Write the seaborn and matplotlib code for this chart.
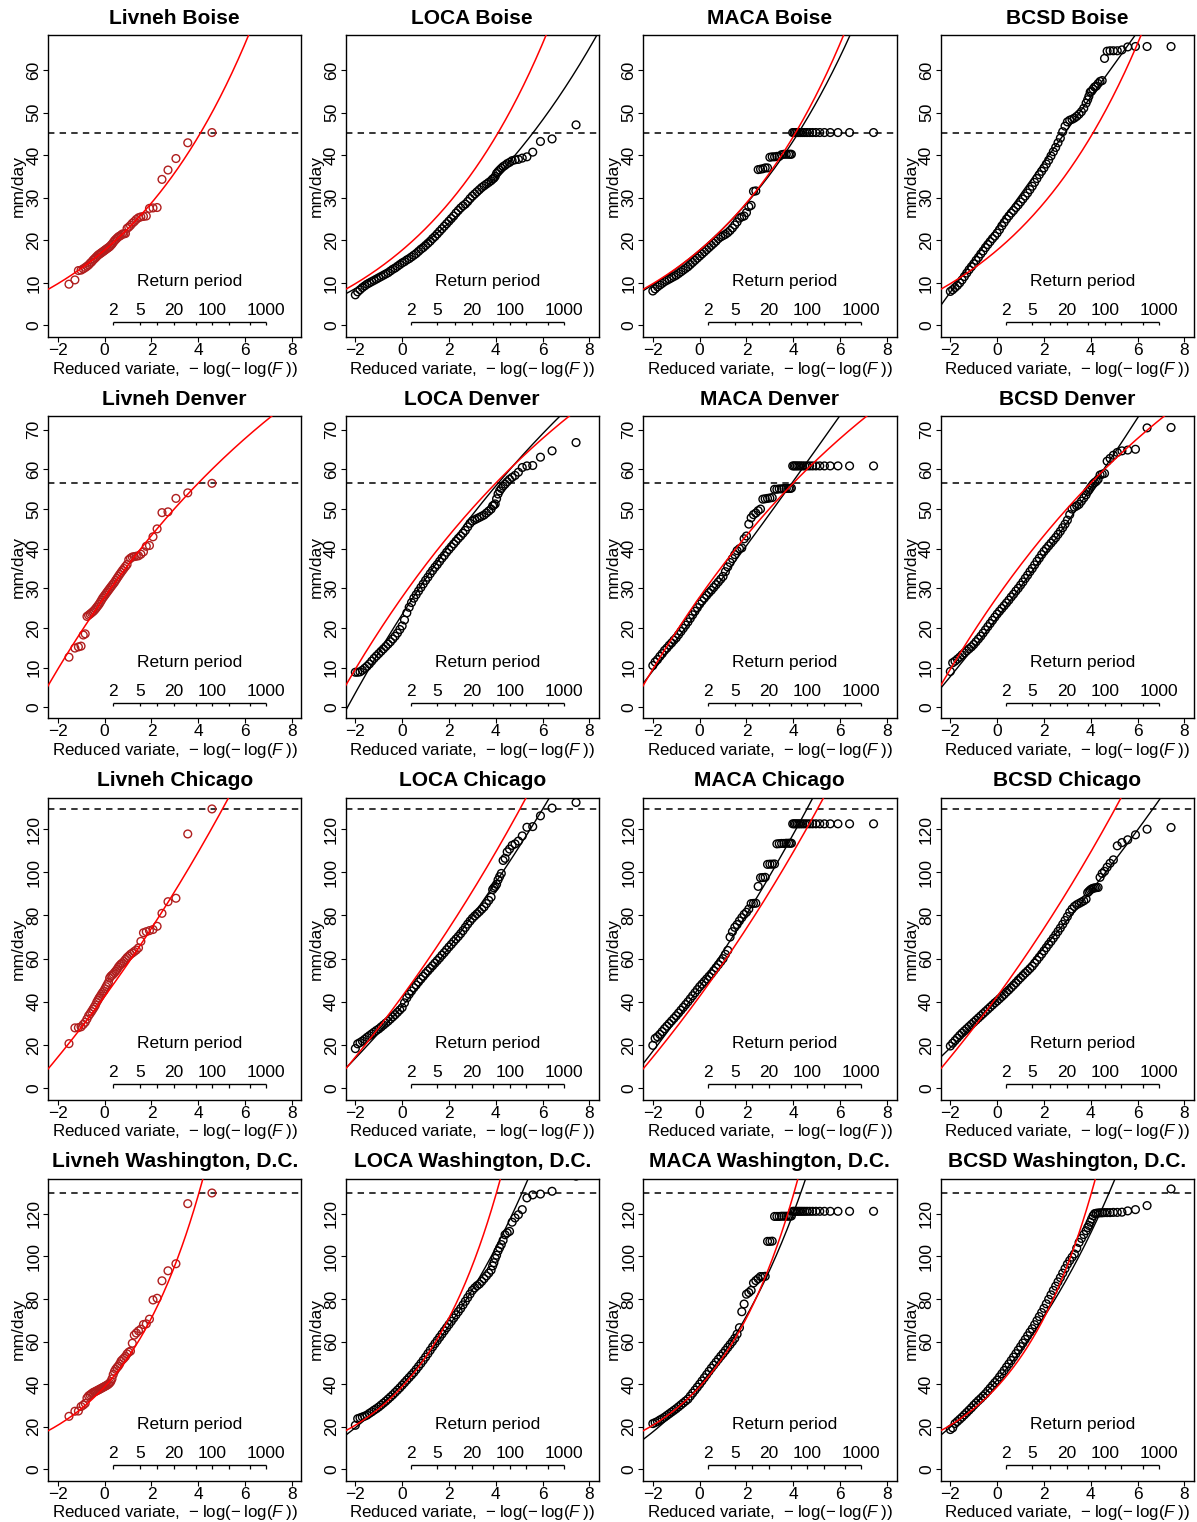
import numpy as np
import matplotlib
matplotlib.use("Agg")
import matplotlib.pyplot as plt
import matplotlib.transforms as mtransforms
import seaborn as sns

sns.set_theme(style="ticks", rc={
    "axes.edgecolor": "black", "axes.linewidth": 1.0,
    "xtick.color": "black", "ytick.color": "black",
    "text.color": "black", "axes.labelcolor": "black",
})
plt.rcParams["font.family"] = ["Liberation Sans", "DejaVu Sans"]
plt.rcParams["mathtext.fontset"] = "custom"
plt.rcParams["mathtext.rm"] = "Liberation Sans"
plt.rcParams["mathtext.it"] = "Liberation Sans:italic"
plt.rcParams["axes.unicode_minus"] = True

# ---------------------------------------------------------------- data
products = ["Livneh", "LOCA", "MACA", "BCSD"]
cities = ["Boise", "Denver", "Chicago", "Washington, D.C."]

# Livneh observed annual maxima (mm/day), 55 years, ascending
livneh_boise = [9.7, 10.7, 12.9, 13.0, 13.3, 13.6, 13.9, 14.2, 14.6, 14.9, 15.3, 15.6, 15.9, 16.2,
                16.5, 16.7, 16.9, 17.1, 17.3, 17.5, 17.7, 17.9, 18.1, 18.3, 18.5, 18.8, 19.1, 19.5,
                19.9, 20.2, 20.5, 20.8, 21.0, 21.2, 21.5, 21.5, 21.6, 22.8, 23.1, 23.5, 24.0, 24.4,
                24.9, 25.3, 25.5, 25.6, 25.7, 27.5, 27.6, 27.7, 34.3, 36.5, 39.2, 42.9, 45.3]
livneh_denver = [12.6, 14.9, 15.2, 15.4, 18.2, 18.5, 22.9, 23.2, 23.5, 23.8, 24.1, 24.4, 24.8, 25.2,
                 25.6, 26.0, 26.5, 27.0, 27.5, 27.9, 28.3, 28.7, 29.1, 29.5, 29.9, 30.3, 30.7, 31.1,
                 31.5, 32.0, 32.5, 33.0, 33.5, 34.0, 34.5, 35.0, 35.5, 36.0, 37.2, 37.6, 37.9, 38.0,
                 38.1, 38.2, 38.6, 39.2, 40.6, 40.8, 43.0, 45.0, 49.1, 49.3, 52.7, 54.1, 56.5]
livneh_chicago = [20.6, 27.9, 28.0, 28.4, 29.5, 30.5, 32.0, 33.5, 34.5, 35.5, 36.5, 37.5, 38.5, 39.8,
                  40.8, 41.8, 42.6, 43.5, 44.3, 45.0, 46.0, 47.0, 48.0, 49.0, 51.0, 51.8, 52.3, 52.8,
                  53.5, 54.2, 55.0, 56.0, 56.8, 57.5, 58.0, 58.7, 59.6, 60.5, 61.2, 62.0, 62.6, 63.3,
                  64.0, 65.0, 68.0, 72.0, 72.5, 73.0, 73.5, 75.0, 81.0, 86.4, 88.0, 117.8, 129.4]
livneh_dc = [24.9, 27.3, 27.4, 29.5, 30.2, 31.0, 33.5, 34.5, 35.0, 35.5, 36.0, 36.3, 36.6, 36.9,
             37.2, 37.5, 37.8, 38.1, 38.4, 38.7, 39.0, 39.3, 39.6, 40.0, 40.5, 41.2, 42.5, 44.5,
             46.0, 47.0, 47.8, 48.5, 49.5, 50.8, 51.5, 52.2, 53.0, 54.2, 55.0, 55.5, 59.2, 63.0,
             64.0, 65.0, 65.8, 68.0, 68.3, 70.5, 79.5, 80.3, 88.5, 93.2, 96.5, 124.7, 129.7]

# Downscaled ensembles (944 model-years each).
# Body of each distribution, sampled along the reduced variate -2.0, -1.9, ..., 3.8
bulk_rv = np.round(np.arange(-20, 39) / 10.0, 1)
n_ensemble = 944

loca_boise_bulk = [7.2, 7.9, 8.4, 8.9, 9.3, 9.7, 10.0, 10.3, 10.6, 10.9, 11.2, 11.5, 11.8, 12.1, 12.4,
                   12.8, 13.2, 13.5, 13.9, 14.3, 14.7, 15.0, 15.4, 15.7, 16.1, 16.5, 16.9, 17.4, 17.9,
                   18.3, 18.8, 19.3, 19.8, 20.4, 20.9, 21.5, 22.1, 22.7, 23.3, 23.9, 24.5, 25.1, 25.7,
                   26.4, 27.0, 27.6, 28.1, 28.5, 29.1, 29.8, 30.4, 30.9, 31.4, 31.9, 32.4, 32.8, 33.2,
                   33.6, 34.0]
maca_boise_bulk = [8.1, 8.6, 9.1, 9.5, 9.9, 10.3, 10.6, 10.9, 11.2, 11.5, 11.8, 12.2, 12.6, 13.0, 13.4,
                   13.8, 14.3, 14.8, 15.3, 15.8, 16.3, 16.8, 17.3, 17.8, 18.3, 18.8, 19.3, 19.8, 20.4,
                   20.8, 21.1, 21.4, 21.8, 22.3, 22.9, 23.6, 24.3, 25.2, 25.5, 25.7, 26.5, 27.9, 28.2,
                   31.5, 31.6, 36.6, 36.7, 36.8, 37.0, 37.0, 39.5, 39.6, 39.6, 39.7, 39.7, 40.1, 40.2,
                   40.2, 40.2]
bcsd_boise_bulk = [8.0, 8.4, 8.9, 9.4, 10.0, 10.7, 11.5, 12.3, 13.1, 13.8, 14.5, 15.3, 16.0, 16.8, 17.5,
                   18.3, 19.0, 19.7, 20.4, 21.0, 21.7, 22.5, 23.4, 24.2, 25.0, 25.7, 26.4, 27.0, 27.7,
                   28.3, 29.0, 29.7, 30.4, 31.1, 31.9, 32.7, 33.6, 34.5, 35.4, 36.2, 37.0, 37.9, 38.8,
                   39.8, 40.8, 41.8, 42.9, 44.0, 45.5, 46.8, 47.8, 48.2, 48.4, 48.7, 49.1, 49.6, 50.2,
                   51.0, 52.2]
loca_denver_bulk = [8.8, 8.8, 8.9, 9.3, 9.8, 10.3, 10.9, 11.6, 12.3, 12.9, 13.5, 14.1, 14.7, 15.3, 15.9,
                    16.5, 17.2, 17.9, 18.7, 19.6, 20.5, 22.0, 23.8, 25.2, 26.4, 27.5, 28.4, 29.3, 30.2,
                    31.1, 32.0, 32.8, 33.7, 34.5, 35.3, 36.0, 36.8, 37.6, 38.3, 39.1, 39.8, 40.5, 41.2,
                    41.9, 42.6, 43.2, 43.9, 44.6, 45.5, 46.4, 47.0, 47.3, 47.6, 47.9, 48.2, 48.5, 49.0,
                    49.5, 50.0]
maca_denver_bulk = [10.5, 11.4, 12.0, 12.8, 13.5, 14.3, 14.9, 15.6, 16.2, 16.9, 17.5, 18.3, 19.1, 19.9,
                    20.7, 21.5, 22.4, 23.3, 24.2, 25.1, 26.0, 26.8, 27.5, 28.2, 28.9, 29.5, 30.2, 30.9,
                    31.6, 32.3, 33.0, 34.2, 35.4, 36.5, 37.5, 38.5, 39.5, 40.0, 40.2, 42.5, 43.2, 46.2,
                    47.8, 48.6, 49.0, 49.6, 50.0, 52.5, 52.6, 52.7, 52.8, 52.9, 55.0, 55.0, 55.1, 55.1,
                    55.2, 55.2, 55.2]
bcsd_denver_bulk = [9.0, 11.2, 11.6, 12.1, 12.6, 13.2, 13.7, 14.2, 14.7, 15.2, 15.8, 16.5, 17.2, 17.9,
                    18.7, 19.5, 20.3, 21.1, 21.9, 22.7, 23.5, 24.2, 24.9, 25.6, 26.3, 27.0, 27.8, 28.5,
                    29.3, 30.0, 30.8, 31.6, 32.5, 33.3, 34.2, 35.0, 35.9, 36.8, 37.6, 38.5, 39.3, 40.0,
                    40.7, 41.4, 42.1, 42.8, 43.6, 44.4, 45.3, 46.2, 47.2, 48.6, 50.0, 50.5, 50.8, 51.2,
                    52.0, 52.8, 53.6]
loca_chicago_bulk = [18.3, 20.5, 21.1, 21.8, 22.6, 23.5, 24.3, 25.1, 25.9, 26.7, 27.4, 28.3, 29.2, 30.1,
                     31.0, 32.0, 33.0, 34.0, 35.1, 36.2, 37.3, 39.5, 41.8, 43.5, 45.0, 46.5, 47.8, 49.2,
                     50.5, 51.8, 53.1, 54.3, 55.5, 56.7, 57.9, 59.1, 60.3, 61.6, 62.8, 64.1, 65.4, 66.6,
                     67.9, 69.1, 70.3, 71.6, 73.0, 74.5, 76.0, 77.4, 78.7, 79.8, 80.8, 81.8, 82.9, 84.0,
                     85.5, 87.0, 88.5]
maca_chicago_bulk = [19.8, 23.0, 23.8, 24.9, 26.2, 27.5, 28.7, 29.9, 31.1, 32.3, 33.5, 34.8, 36.1, 37.4,
                     38.7, 40.0, 41.4, 42.8, 44.2, 45.6, 47.0, 48.2, 49.4, 50.6, 51.8, 53.0, 54.4, 55.8,
                     57.2, 58.6, 60.0, 62.0, 63.8, 70.0, 72.5, 74.5, 75.8, 77.5, 79.0, 80.5, 81.5, 83.0,
                     85.5, 85.6, 85.7, 93.5, 97.5, 97.6, 97.7, 103.7, 103.8, 103.8, 103.9, 113.2, 113.3,
                     113.4, 113.4, 113.5, 113.5]
bcsd_chicago_bulk = [19.5, 20.8, 22.0, 23.2, 24.4, 25.5, 26.5, 27.5, 28.5, 29.5, 30.5, 31.5, 32.5, 33.5,
                     34.5, 35.5, 36.5, 37.5, 38.5, 39.5, 40.4, 41.4, 42.4, 43.4, 44.5, 45.5, 46.6, 47.7,
                     48.8, 50.0, 51.1, 52.2, 53.3, 54.3, 55.4, 56.5, 57.9, 59.3, 60.7, 62.1, 63.6, 65.1,
                     66.6, 68.0, 69.5, 71.0, 72.6, 74.2, 75.9, 77.7, 79.5, 81.5, 83.0, 84.2, 85.0, 85.6,
                     86.2, 86.8, 87.6]
loca_dc_bulk = [20.7, 23.8, 24.2, 24.6, 25.0, 25.5, 26.3, 27.0, 27.8, 28.5, 29.3, 30.2, 31.1, 32.0,
                33.0, 34.0, 35.0, 36.1, 37.2, 38.3, 39.5, 40.7, 41.9, 43.1, 44.3, 45.5, 46.9, 48.3,
                49.7, 51.2, 52.7, 54.3, 55.9, 57.5, 59.0, 60.5, 62.0, 63.5, 65.0, 66.5, 68.0, 69.5,
                71.0, 72.5, 74.0, 75.5, 77.2, 78.9, 80.6, 82.3, 84.0, 85.2, 86.2, 87.0, 88.2, 89.5,
                90.8, 92.1, 93.5]
maca_dc_bulk = [21.5, 22.0, 22.5, 23.2, 23.8, 24.5, 25.3, 26.1, 26.9, 27.7, 28.5, 29.4, 30.3, 31.2,
                32.1, 33.0, 34.4, 35.8, 37.2, 38.6, 40.0, 41.5, 43.0, 44.5, 46.0, 47.5, 48.9, 50.3,
                51.7, 53.1, 54.4, 55.8, 57.2, 58.6, 60.0, 61.5, 63.5, 66.5, 74.0, 77.6, 82.2, 83.0,
                84.0, 87.5, 88.6, 89.5, 90.5, 90.5, 90.6, 107.0, 107.0, 107.1, 118.7, 118.7, 118.7,
                118.8, 118.8, 118.8, 118.8]
bcsd_dc_bulk = [18.7, 19.5, 21.5, 22.5, 23.5, 24.5, 25.6, 26.7, 27.8, 28.9, 30.1, 31.2, 32.3, 33.3,
                34.4, 35.5, 36.8, 38.1, 39.4, 40.7, 41.9, 43.4, 44.9, 46.4, 48.0, 49.5, 51.1, 52.7,
                54.3, 56.0, 57.6, 59.3, 61.0, 62.7, 64.4, 66.0, 67.9, 69.8, 71.7, 73.6, 75.6, 77.7,
                79.8, 81.9, 84.0, 86.0, 88.0, 90.0, 92.1, 94.2, 96.3, 98.0, 99.6, 101.1, 103.8, 106.5,
                108.4, 110.2, 112.0]

# Twenty largest ensemble values, largest first
loca_boise_top = [47.1, 43.8, 43.2, 40.7, 39.6, 39.3, 39.0, 38.9, 38.7, 38.3, 38.0, 37.6, 37.3, 36.9,
                  36.5, 36.1, 35.7, 35.0, 34.6, 34.4]
maca_boise_top = [45.3, 45.3, 45.3, 45.3, 45.3, 45.3, 45.3, 45.3, 45.3, 45.3, 45.3, 45.3, 45.3, 45.3,
                  45.3, 45.3, 45.3, 45.3, 40.2, 40.2]
bcsd_boise_top = [65.5, 65.5, 65.5, 65.4, 64.7, 64.5, 64.5, 64.5, 64.4, 62.7, 57.5, 57.3, 56.8, 56.2,
                  56.0, 55.5, 55.0, 54.8, 53.8, 53.0]
loca_denver_top = [66.8, 64.7, 63.1, 61.0, 60.9, 60.5, 59.3, 58.5, 58.0, 57.5, 56.9, 56.3, 55.8, 55.2,
                   54.6, 53.8, 52.6, 51.3, 51.0, 50.8]
maca_denver_top = [60.9, 60.9, 60.9, 60.9, 60.9, 60.9, 60.9, 60.9, 60.9, 60.9, 60.9, 60.9, 60.9, 60.9,
                   60.9, 60.9, 60.9, 60.9, 55.3, 55.2]
bcsd_denver_top = [70.6, 70.5, 65.1, 64.9, 64.7, 64.3, 63.6, 62.8, 62.1, 59.0, 58.8, 58.6, 57.5, 57.0,
                   56.7, 56.3, 55.8, 55.3, 54.8, 54.4]
loca_chicago_top = [132.4, 129.8, 126.2, 121.2, 120.9, 116.9, 114.5, 113.2, 112.5, 110.8, 109.5, 106.5,
                    105.5, 99.5, 98.0, 96.5, 94.5, 93.5, 92.8, 92.0]
maca_chicago_top = [122.5, 122.5, 122.5, 122.5, 122.5, 122.5, 122.5, 122.5, 122.5, 122.5, 122.5, 122.5,
                    122.5, 122.5, 122.5, 122.5, 122.5, 122.5, 113.5, 113.5]
bcsd_chicago_top = [120.8, 120.0, 117.4, 115.1, 113.8, 112.3, 105.8, 104.2, 102.4, 100.5, 99.5, 97.7,
                    93.0, 92.9, 92.8, 92.6, 92.3, 91.8, 91.2, 90.6]
loca_dc_top = [137.6, 130.5, 129.2, 128.8, 127.4, 121.9, 119.5, 118.0, 116.0, 111.7, 111.0, 110.1,
               107.5, 105.5, 104.0, 102.5, 100.5, 99.0, 97.0, 95.5]
maca_dc_top = [121.1, 121.1, 121.1, 121.1, 121.1, 121.1, 121.1, 121.1, 121.1, 121.1, 121.1, 121.1,
               121.1, 121.1, 121.1, 121.1, 121.1, 121.1, 118.9, 118.9]
bcsd_dc_top = [131.6, 123.8, 121.9, 121.3, 120.7, 120.6, 120.6, 120.5, 120.5, 120.5, 120.4, 120.4,
               120.3, 120.2, 120.0, 119.0, 117.5, 116.0, 114.5, 113.5]

# GEV fits (location, scale, shape) in the reduced-variate form
gev_livneh = {"Boise": (17.7, 4.65, 0.17), "Denver": (27.8, 8.4, -0.08),
              "Chicago": (42.5, 14.9, 0.057), "Washington, D.C.": (38.8, 11.9, 0.29)}
gev_loca = {"Boise": (15.5, 3.815, 0.113), "Denver": (23.4, 9.26, -0.068),
            "Chicago": (38.0, 12.8, 0.056), "Washington, D.C.": (40.0, 11.78, 0.146)}
gev_maca = {"Boise": (17.7, 4.7, 0.148), "Denver": (24.8, 7.9, 0.01),
            "Chicago": (47.0, 15.8, 0.055), "Washington, D.C.": (39.5, 13.25, 0.197)}
gev_bcsd = {"Boise": (23.1, 7.64, 0.0), "Denver": (22.6, 7.67, 0.03),
            "Chicago": (41.0, 11.6, 0.04), "Washington, D.C.": (42.0, 12.75, 0.144)}

return_periods = [2, 5, 10, 20, 50, 100, 200, 500, 1000]
return_labels = [2, 5, 20, 100, 1000]

y_limits = {"Boise": (-2.7, 68.2), "Denver": (-2.75, 73.5),
            "Chicago": (-5.3, 134.7), "Washington, D.C.": (-5.2, 136.5)}
y_ticks = {"Boise": range(0, 61, 10), "Denver": range(0, 71, 10),
           "Chicago": range(0, 121, 20), "Washington, D.C.": range(0, 121, 20)}

livneh_values = {"Boise": livneh_boise, "Denver": livneh_denver,
                 "Chicago": livneh_chicago, "Washington, D.C.": livneh_dc}
ensemble_bulk = {
    ("LOCA", "Boise"): loca_boise_bulk, ("MACA", "Boise"): maca_boise_bulk, ("BCSD", "Boise"): bcsd_boise_bulk,
    ("LOCA", "Denver"): loca_denver_bulk, ("MACA", "Denver"): maca_denver_bulk, ("BCSD", "Denver"): bcsd_denver_bulk,
    ("LOCA", "Chicago"): loca_chicago_bulk, ("MACA", "Chicago"): maca_chicago_bulk, ("BCSD", "Chicago"): bcsd_chicago_bulk,
    ("LOCA", "Washington, D.C."): loca_dc_bulk, ("MACA", "Washington, D.C."): maca_dc_bulk,
    ("BCSD", "Washington, D.C."): bcsd_dc_bulk,
}
ensemble_top = {
    ("LOCA", "Boise"): loca_boise_top, ("MACA", "Boise"): maca_boise_top, ("BCSD", "Boise"): bcsd_boise_top,
    ("LOCA", "Denver"): loca_denver_top, ("MACA", "Denver"): maca_denver_top, ("BCSD", "Denver"): bcsd_denver_top,
    ("LOCA", "Chicago"): loca_chicago_top, ("MACA", "Chicago"): maca_chicago_top, ("BCSD", "Chicago"): bcsd_chicago_top,
    ("LOCA", "Washington, D.C."): loca_dc_top, ("MACA", "Washington, D.C."): maca_dc_top,
    ("BCSD", "Washington, D.C."): bcsd_dc_top,
}
gev_fits = {"LOCA": gev_loca, "MACA": gev_maca, "BCSD": gev_bcsd}


# ---------------------------------------------------------------- helpers
def gringorten_rv(rank, n):
    """Gumbel reduced variate of Gringorten plotting positions."""
    p = (np.asarray(rank, float) - 0.44) / (n + 0.12)
    return -np.log(-np.log(p))


def gev_quantile(rv, loc, scale, shape):
    rv = np.asarray(rv, float)
    if abs(shape) < 1e-9:
        return loc + scale * rv
    return loc + scale * np.expm1(shape * rv) / shape


LIVNEH_PT = "#B01E1E"
FS = 12.5
THIN = "\u2009"

fig = plt.figure(figsize=(11.97, 15.22), dpi=100)
W, H = 1197.0, 1522.0
lefts = [48, 345.5, 643, 940.5]
tops = [35, 416, 797.5, 1178.5]
aw, ah = 253.5, 302

rv_curve = np.linspace(-2.7, 8.7, 400)
rp_rv = -np.log(-np.log(1 - 1 / np.array(return_periods, float)))
x_label = ("Reduced variate,  \u2212" + THIN + "log(\u2212" + THIN + "log($\\mathit{F}$"
           + THIN + "))")

for r, city in enumerate(cities):
    for c, prod in enumerate(products):
        ax = fig.add_axes([lefts[c] / W, (H - tops[r] - ah) / H, aw / W, ah / H])

        if prod == "Livneh":
            vals = np.sort(np.array(livneh_values[city], float))
            rv = gringorten_rv(np.arange(1, len(vals) + 1), len(vals))
            pt_color = LIVNEH_PT
        else:
            top = np.array(ensemble_top[(prod, city)], float)
            ranks = n_ensemble - np.arange(len(top))
            rv = np.concatenate([bulk_rv, gringorten_rv(ranks, n_ensemble)])
            vals = np.concatenate([np.array(ensemble_bulk[(prod, city)], float), top])
            pt_color = "black"

        # observed record maximum
        ax.axhline(max(livneh_values[city]), color="black", lw=1.1,
                   linestyle=(0, (4.2, 3.4)), zorder=2)

        sns.scatterplot(x=rv, y=vals, ax=ax, marker="o", s=31, color=pt_color,
                        facecolor="none", edgecolor=pt_color, linewidth=1.0,
                        legend=False, zorder=3)

        if prod != "Livneh":
            sns.lineplot(x=rv_curve, y=gev_quantile(rv_curve, *gev_fits[prod][city]), ax=ax,
                         color="black", lw=1.0, estimator=None, errorbar=None, zorder=4)
        sns.lineplot(x=rv_curve, y=gev_quantile(rv_curve, *gev_livneh[city]), ax=ax,
                     color="#FF0000", lw=1.1, estimator=None, errorbar=None, zorder=5)

        ax.set_xlim(-2.42, 8.41)
        ax.set_ylim(*y_limits[city])
        ax.set_xticks([-2, 0, 2, 4, 6, 8])
        ax.set_yticks(list(y_ticks[city]))
        ax.tick_params(axis="both", direction="out", length=3.6, width=0.8,
                       labelsize=FS, pad=1.0, colors="black")
        for lab in ax.get_yticklabels():
            lab.set_rotation(90)
            lab.set_verticalalignment("center")
        for sp in ax.spines.values():
            sp.set_visible(True)
            sp.set_color("black")
            sp.set_linewidth(1.0)

        ax.set_title(f"{prod} {city}", fontsize=15.1, fontweight="bold", pad=8.0)
        ax.set_ylabel("mm/day", fontsize=FS, labelpad=0.5)
        ax.set_xlabel(x_label, fontsize=12.2, labelpad=1.0)

        # return-period scale drawn inside the panel
        trans = mtransforms.blended_transform_factory(ax.transData, ax.transAxes)
        y_line = 0.0507
        ax.plot([rp_rv[0], rp_rv[-1]], [y_line, y_line], transform=trans,
                color="black", lw=1.0, solid_capstyle="butt", zorder=6)
        ax.vlines(rp_rv, y_line - 0.011, y_line, transform=trans, color="black", lw=0.9, zorder=6)
        for T in return_labels:
            xr = -np.log(-np.log(1 - 1 / T))
            ax.text(xr, 0.073, str(T), transform=trans, ha="center", va="baseline", fontsize=FS)
        ax.text((rp_rv[0] + rp_rv[-1]) / 2, 0.169, "Return period", transform=trans,
                ha="center", va="baseline", fontsize=FS)

fig.savefig("out.png", dpi=100)
